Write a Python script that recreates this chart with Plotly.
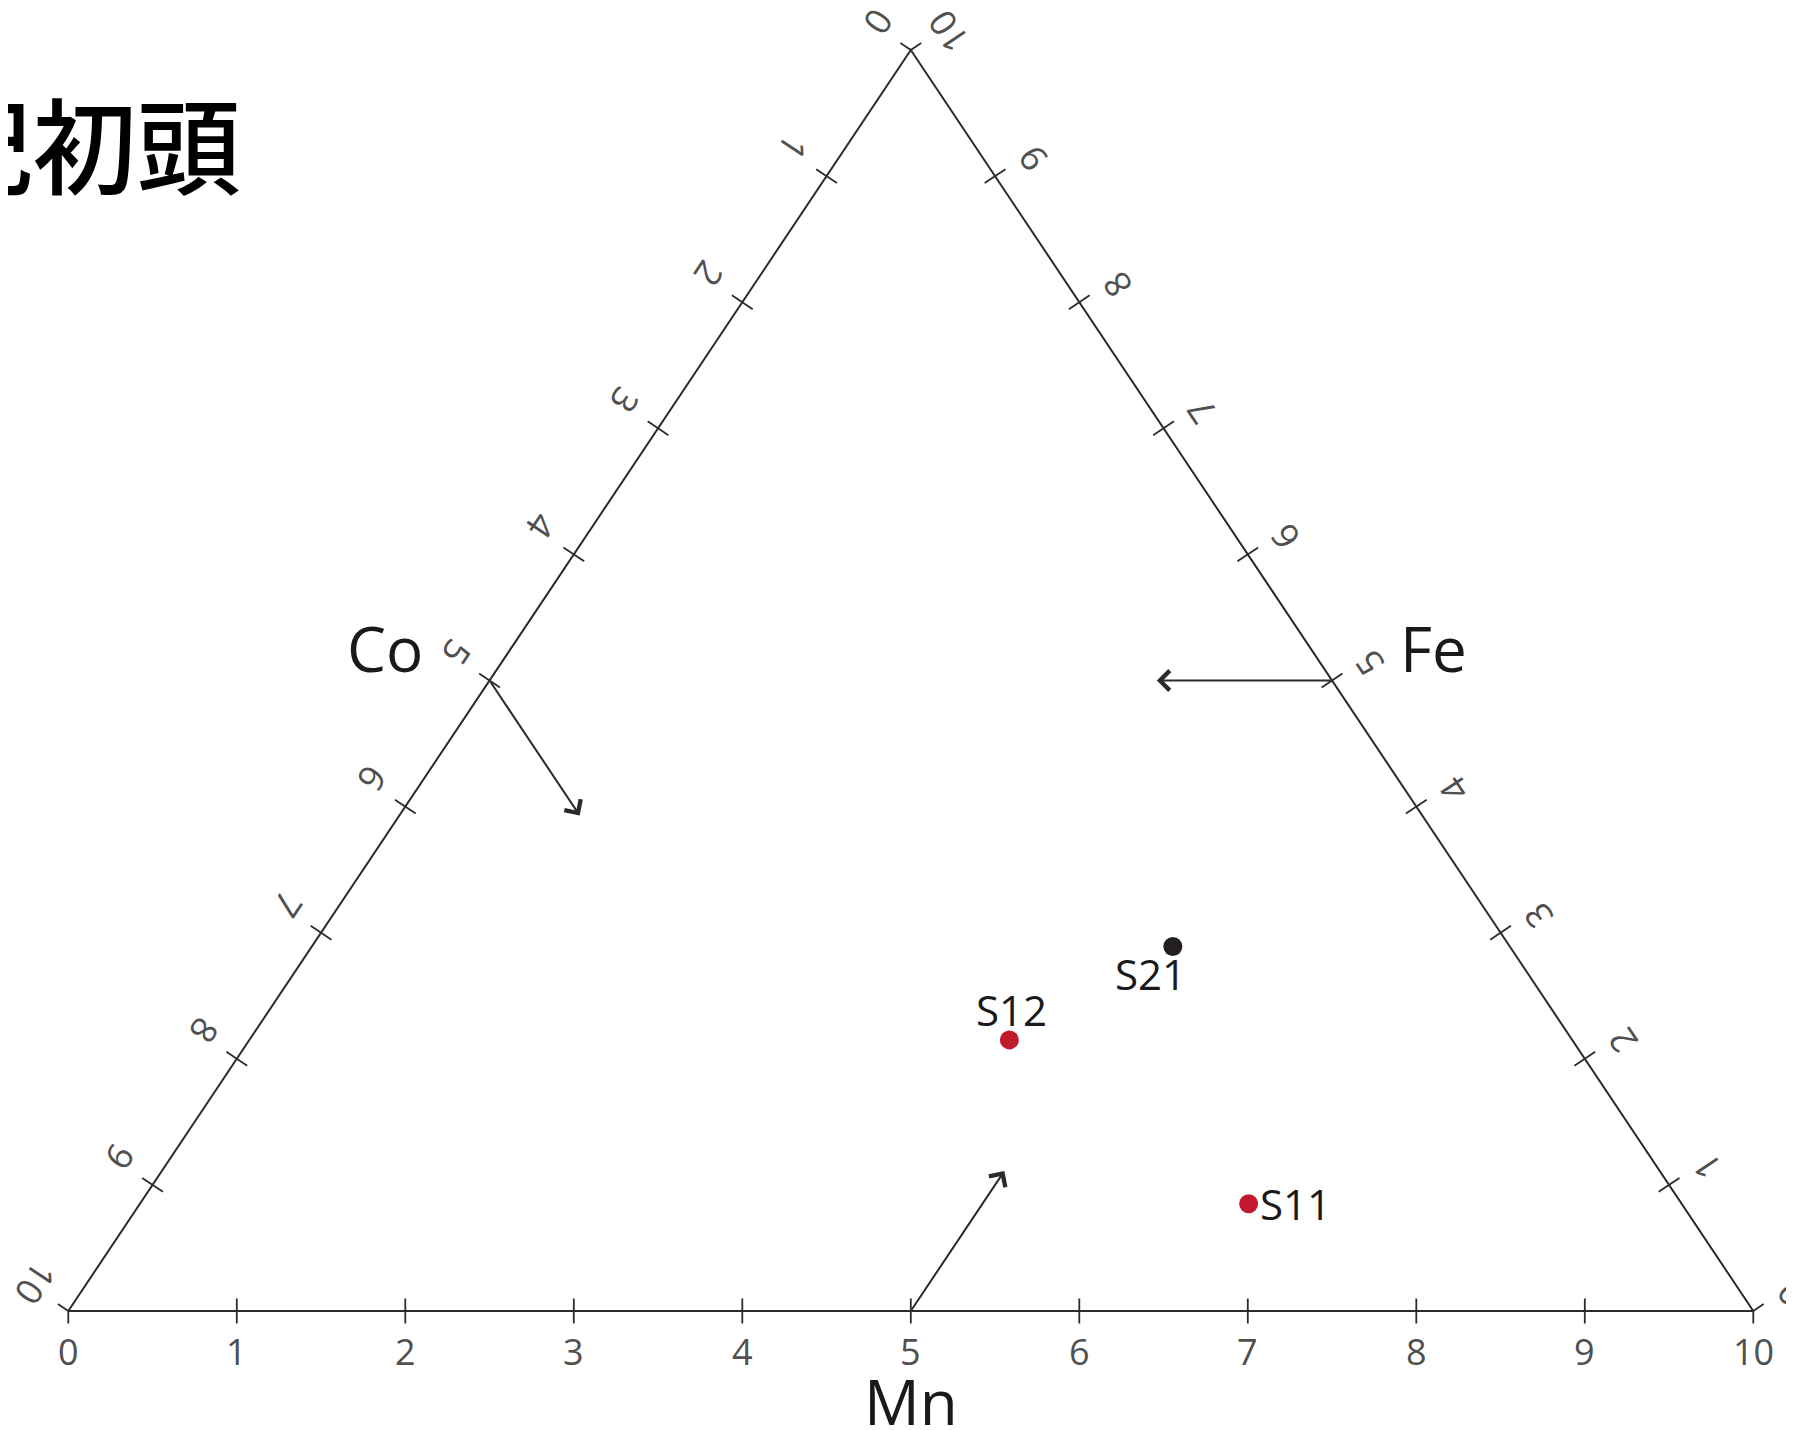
import math

import plotly.graph_objects as go

# -----------------------------
# Data
# -----------------------------
samples = ["S11", "S12", "S21"]
mn_vals = [6.58, 4.51, 5.11]
fe_vals = [0.85, 2.15, 2.89]
co_vals = [2.57, 3.34, 2.00]
sample_colors = ["#c1192d", "#c1192d", "#231f20"]

tick_vals = list(range(0, 11))
tick_text = [str(v) for v in tick_vals]

# direction arrows: start on the edge at 5, length
arrow_start = 5
co_arrow_len = 1.07   # along Co = 5, Mn grows
fe_arrow_len = 1.04   # along Fe = 5, Mn shrinks
mn_arrow_len = 1.11   # along Mn = 5, Fe grows

title_text = "20世紀初頭"

# -----------------------------
# Geometry helpers
# -----------------------------
PAGE = 8                 # default body margin of the html page
W, H = 1794 - PAGE, 1430 - PAGE
kx, ky = 168.5, 126.1    # pixels per unit, horizontal / vertical
X0_PX, Y0_PX = 68.3 - PAGE, 1311 - PAGE   # where (0, 0) sits
XR = [-X0_PX / kx, (W - X0_PX) / kx]
YR = [-(H - Y0_PX) / ky, Y0_PX / ky]

LINE = "#2b2b2b"
TICK_FONT = dict(family="Open Sans", size=36, color="#505050")


def to_xy(fe, mn):
    # Fe at the top vertex, Co bottom-left, Mn bottom-right
    return mn + fe / 2.0, fe


def shift(x, y, dpx, dpy):
    # move a data point by a pixel offset
    return x + dpx / kx, y - dpy / ky


def unit_px(p0, p1):
    dx = (p1[0] - p0[0]) * kx
    dy = -(p1[1] - p0[1]) * ky
    n = math.hypot(dx, dy)
    return dx / n, dy / n


top = to_xy(10, 0)
bl = to_xy(0, 0)
br = to_xy(0, 10)

up_left = unit_px(bl, top)            # along left edge, upward
down_right = unit_px(top, br)         # along right edge, downward
n_left = (up_left[1], -up_left[0])    # outward normal, left edge
n_right = (-down_right[1], down_right[0])
if n_right[0] < 0:
    n_right = (-n_right[0], -n_right[1])
n_bottom = (0.0, 1.0)

ang_left = 90 + math.degrees(math.atan(abs(n_left[1]) / abs(n_left[0])))
ang_right = -ang_left

fig = go.Figure()

# -----------------------------
# Triangle frame
# -----------------------------
fig.add_trace(
    go.Scatter(
        x=[bl[0], br[0], top[0], bl[0]],
        y=[bl[1], br[1], top[1], bl[1]],
        mode="lines",
        line=dict(color=LINE, width=2),
        hoverinfo="skip",
        showlegend=False,
    )
)

# -----------------------------
# Ticks and tick labels
# -----------------------------
edges = {
    "Mn": dict(pos=lambda v: to_xy(0, v), n=n_bottom, off=40, along=(0, 0), slide=0, angle=0),
    "Co": dict(pos=lambda v: to_xy(10 - v, 0), n=n_left, off=43, along=up_left, slide=5, angle=ang_left),
    "Fe": dict(pos=lambda v: to_xy(v, 10 - v), n=n_right, off=41, along=down_right, slide=6, angle=ang_right),
}

tx, ty = [], []
annotations = []
TL = 12.5
for name, e in edges.items():
    nx, ny = e["n"]
    for v, lab in zip(tick_vals, tick_text):
        px, py = e["pos"](v)
        inner = 0 if v in (0, 10) else TL
        a = shift(px, py, -nx * inner, -ny * inner)
        b = shift(px, py, nx * TL, ny * TL)
        tx += [a[0], b[0], None]
        ty += [a[1], b[1], None]

        lx, ly = shift(
            px, py,
            nx * e["off"] + e["along"][0] * e["slide"],
            ny * e["off"] + e["along"][1] * e["slide"],
        )
        annotations.append(
            dict(
                x=lx, y=ly, xref="x", yref="y",
                text=lab, showarrow=False,
                textangle=e["angle"],
                xanchor="center", yanchor="middle",
                font=TICK_FONT,
            )
        )

fig.add_trace(
    go.Scatter(
        x=tx, y=ty, mode="lines",
        line=dict(color=LINE, width=1.8),
        hoverinfo="skip", showlegend=False,
    )
)

# -----------------------------
# Axis titles
# -----------------------------
AX_FONT = dict(family="Open Sans", size=62, color="#1a1a1a")
mid_left = to_xy(5, 0)
mid_right = to_xy(5, 5)
mid_bottom = to_xy(0, 5)
for lab, base, d in [
    ("Co", mid_left, (-105, -33)),
    ("Fe", mid_right, (101, -33)),
    ("Mn", mid_bottom, (0, 90)),
]:
    x, y = shift(base[0], base[1], d[0], d[1])
    annotations.append(
        dict(x=x, y=y, xref="x", yref="y", text=lab, showarrow=False,
             xanchor="center", yanchor="middle", font=AX_FONT)
    )

# -----------------------------
# Reading-direction arrows
# -----------------------------
arrows = [
    # (tail Fe, tail Mn), (head Fe, head Mn)
    ((10 - arrow_start, 0), (10 - arrow_start - co_arrow_len, co_arrow_len)),
    ((arrow_start, 10 - arrow_start), (arrow_start, 10 - arrow_start - fe_arrow_len)),
    ((0, arrow_start), (mn_arrow_len, arrow_start)),
]
for tail, head in arrows:
    hx, hy = to_xy(*head)
    ax_, ay_ = to_xy(*tail)
    annotations.append(
        dict(
            x=hx, y=hy, ax=ax_, ay=ay_,
            xref="x", yref="y", axref="x", ayref="y",
            text="", showarrow=True,
            arrowhead=4, arrowsize=1.9, arrowwidth=2,
            arrowcolor=LINE, standoff=0, startstandoff=0,
        )
    )

# -----------------------------
# Samples
# -----------------------------
sx, sy = [], []
for fe, mn in zip(fe_vals, mn_vals):
    x, y = to_xy(fe, mn)
    sx.append(x)
    sy.append(y)

fig.add_trace(
    go.Scatter(
        x=sx, y=sy, mode="markers",
        marker=dict(size=19, color=sample_colors, line=dict(width=0)),
        text=samples,
        customdata=list(zip(mn_vals, fe_vals, co_vals)),
        hovertemplate="%{text}<br>Mn %{customdata[0]}<br>Fe %{customdata[1]}<br>Co %{customdata[2]}<extra></extra>",
        showlegend=False,
    )
)

LAB_FONT = dict(family="Open Sans", size=42, color="#1a1a1a")
label_offsets = {"S11": (9, 0, "left"), "S12": (2, -30, "center"), "S21": (-22, 27, "center")}
for s, x, y in zip(samples, sx, sy):
    dx, dy, anchor = label_offsets[s]
    lx, ly = shift(x, y, dx, dy)
    annotations.append(
        dict(x=lx, y=ly, xref="x", yref="y", text=s, showarrow=False,
             xanchor=anchor, yanchor="middle", font=LAB_FONT)
    )

# -----------------------------
# Title (runs off the left edge)
# -----------------------------
annotations.append(
    dict(
        x=(243 - PAGE) / W, y=1 - (141 - PAGE) / H, xref="paper", yref="paper",
        text=title_text, showarrow=False,
        xanchor="right", yanchor="middle",
        font=dict(family="Noto Sans CJK JP", size=104, color="#000000", weight=500),
    )
)

# -----------------------------
# Layout
# -----------------------------
fig.update_layout(
    width=W,
    height=H,
    margin=dict(l=0, r=0, t=0, b=0),
    paper_bgcolor="white",
    plot_bgcolor="white",
    xaxis=dict(range=XR, visible=False, fixedrange=True),
    yaxis=dict(range=YR, visible=False, fixedrange=True),
    annotations=annotations,
    showlegend=False,
)

fig.write_html("out.html")
